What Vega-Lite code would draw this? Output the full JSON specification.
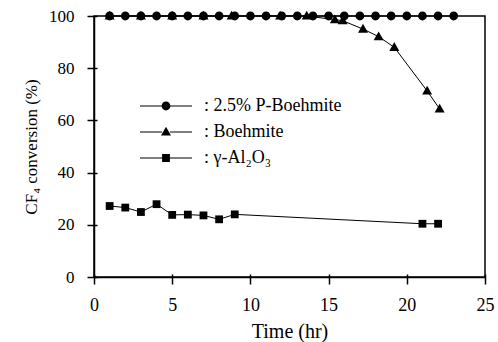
{
  "$schema": "https://vega.github.io/schema/vega-lite/v6.json",
  "width": 391,
  "height": 261,
  "autosize": {"type": "none"},
  "padding": {"left": 94, "top": 16, "right": 13, "bottom": 65},
  "background": "white",
  "config": {
    "font": "Liberation Serif",
    "view": {"stroke": "black", "strokeWidth": 1.5},
    "axis": {
      "grid": false,
      "domainColor": "black",
      "domainWidth": 1.5,
      "tickColor": "black",
      "tickWidth": 1.5,
      "tickSize": 7,
      "labelFont": "Liberation Serif",
      "labelFontSize": 18,
      "labelColor": "black",
      "titleFont": "Liberation Serif",
      "titleFontSize": 20,
      "titleFontWeight": "normal",
      "titleColor": "black"
    }
  },
  "data": {
    "values": [
      {"s": ": Boehmite", "t": 1, "c": 100},
      {"s": ": Boehmite", "t": 3, "c": 100},
      {"s": ": Boehmite", "t": 5, "c": 100},
      {"s": ": Boehmite", "t": 7, "c": 100},
      {"s": ": Boehmite", "t": 8.8, "c": 100},
      {"s": ": Boehmite", "t": 11.9, "c": 100},
      {"s": ": Boehmite", "t": 13.6, "c": 100},
      {"s": ": Boehmite", "t": 15.4, "c": 98.6},
      {"s": ": Boehmite", "t": 15.9, "c": 98.2},
      {"s": ": Boehmite", "t": 17.2, "c": 95},
      {"s": ": Boehmite", "t": 18.2, "c": 92.1},
      {"s": ": Boehmite", "t": 19.2, "c": 88},
      {"s": ": Boehmite", "t": 21.3, "c": 71.3},
      {"s": ": Boehmite", "t": 22.1, "c": 64.4},
      {"s": ": 2.5% P-Boehmite", "t": 1, "c": 100},
      {"s": ": 2.5% P-Boehmite", "t": 2, "c": 100},
      {"s": ": 2.5% P-Boehmite", "t": 3, "c": 100},
      {"s": ": 2.5% P-Boehmite", "t": 4, "c": 100},
      {"s": ": 2.5% P-Boehmite", "t": 5, "c": 100},
      {"s": ": 2.5% P-Boehmite", "t": 6, "c": 100},
      {"s": ": 2.5% P-Boehmite", "t": 7, "c": 100},
      {"s": ": 2.5% P-Boehmite", "t": 8, "c": 100},
      {"s": ": 2.5% P-Boehmite", "t": 9, "c": 100},
      {"s": ": 2.5% P-Boehmite", "t": 10, "c": 100},
      {"s": ": 2.5% P-Boehmite", "t": 11, "c": 100},
      {"s": ": 2.5% P-Boehmite", "t": 12, "c": 100},
      {"s": ": 2.5% P-Boehmite", "t": 13, "c": 100},
      {"s": ": 2.5% P-Boehmite", "t": 14, "c": 100},
      {"s": ": 2.5% P-Boehmite", "t": 15, "c": 100},
      {"s": ": 2.5% P-Boehmite", "t": 16, "c": 100},
      {"s": ": 2.5% P-Boehmite", "t": 17, "c": 100},
      {"s": ": 2.5% P-Boehmite", "t": 18, "c": 100},
      {"s": ": 2.5% P-Boehmite", "t": 19, "c": 100},
      {"s": ": 2.5% P-Boehmite", "t": 20, "c": 100},
      {"s": ": 2.5% P-Boehmite", "t": 21, "c": 100},
      {"s": ": 2.5% P-Boehmite", "t": 22, "c": 100},
      {"s": ": 2.5% P-Boehmite", "t": 23, "c": 100},
      {"s": ": γ-Al₂O₃", "t": 1, "c": 27.2},
      {"s": ": γ-Al₂O₃", "t": 2, "c": 26.6},
      {"s": ": γ-Al₂O₃", "t": 3, "c": 24.9},
      {"s": ": γ-Al₂O₃", "t": 4, "c": 27.9},
      {"s": ": γ-Al₂O₃", "t": 5, "c": 23.8},
      {"s": ": γ-Al₂O₃", "t": 6, "c": 23.9},
      {"s": ": γ-Al₂O₃", "t": 7, "c": 23.6},
      {"s": ": γ-Al₂O₃", "t": 8, "c": 22.1},
      {"s": ": γ-Al₂O₃", "t": 9, "c": 24.0},
      {"s": ": γ-Al₂O₃", "t": 21, "c": 20.4},
      {"s": ": γ-Al₂O₃", "t": 22, "c": 20.4}
    ]
  },
  "layer": [
    {
      "mark": {"type": "line", "color": "black", "strokeWidth": 1},
      "encoding": {
        "x": {
          "field": "t",
          "type": "quantitative",
          "scale": {"domain": [0, 25], "nice": false, "zero": false},
          "axis": {
            "title": "Time (hr)",
            "values": [0, 5, 10, 15, 20, 25],
            "labelPadding": 12,
            "titlePadding": 7,
            "titleFontWeight": "normal",
            "labelFlush": false,
            "labelOverlap": false
          }
        },
        "y": {
          "field": "c",
          "type": "quantitative",
          "scale": {"domain": [0, 100], "nice": false},
          "axis": {
            "title": "CF₄ conversion (%)",
            "values": [0, 20, 40, 60, 80, 100],
            "labelFontSize": 17,
            "titleFontSize": 17,
            "titleFontWeight": "normal",
            "labelPadding": 13,
            "titlePadding": 8,
            "labelFlush": false,
            "labelOverlap": false
          }
        },
        "detail": {"field": "s", "type": "nominal"}
      }
    },
    {
      "mark": {"type": "point", "filled": true, "color": "black", "opacity": 1, "size": 400},
      "encoding": {
        "x": {
          "field": "t",
          "type": "quantitative",
          "scale": {"domain": [0, 25], "nice": false, "zero": false},
          "axis": null
        },
        "y": {
          "field": "c",
          "type": "quantitative",
          "scale": {"domain": [0, 100], "nice": false},
          "axis": null
        },
        "shape": {
          "field": "s",
          "type": "nominal",
          "scale": {
            "domain": [": 2.5% P-Boehmite", ": Boehmite", ": γ-Al₂O₃"],
            "range": [
              "M-0.44,0A0.44,0.44,0,1,1,0.44,0A0.44,0.44,0,1,1,-0.44,0Z",
              "M0,-0.52L0.5,0.36L-0.5,0.36Z",
              "M-0.39,-0.39H0.39V0.39H-0.39Z"
            ]
          },
          "legend": null
        }
      }
    },
    {
      "mark": {"type": "point", "filled": true, "color": "black", "opacity": 0, "size": 400},
      "encoding": {
        "x": {
          "field": "t",
          "type": "quantitative",
          "scale": {"domain": [0, 25], "nice": false, "zero": false},
          "axis": {"orient": "bottom", "values": [0, 5, 10, 15, 20, 25], "tickSize": -3, "labels": false, "domain": false, "title": null}
        },
        "y": {
          "field": "c",
          "type": "quantitative",
          "scale": {"domain": [0, 100], "nice": false},
          "axis": {"orient": "left", "values": [0, 20, 40, 60, 80, 100], "tickSize": -3, "labels": false, "domain": false, "title": null}
        },
        "shape": {
          "field": "s",
          "type": "nominal",
          "scale": {
            "domain": [": 2.5% P-Boehmite", ": Boehmite", ": γ-Al₂O₃"],
            "range": [
              "M-2.6,-0.06H-0.4V0.06H-2.6ZM0.4,-0.06H2.6V0.06H0.4ZM-0.44,0A0.44,0.44,0,1,1,0.44,0A0.44,0.44,0,1,1,-0.44,0Z",
              "M-2.6,-0.06H-0.4V0.06H-2.6ZM0.4,-0.06H2.6V0.06H0.4ZM0,-0.52L0.5,0.36L-0.5,0.36Z",
              "M-2.6,-0.06H-0.35V0.06H-2.6ZM0.35,-0.06H2.6V0.06H0.35ZM-0.39,-0.39H0.39V0.39H-0.39Z"
            ]
          },
          "legend": {
            "orient": "none",
            "legendX": 62,
            "legendY": 80,
            "title": null,
            "padding": 0,
            "symbolSize": 400,
            "labelFont": "Liberation Serif",
            "labelFontSize": 18,
            "labelColor": "black",
            "labelOffset": 28,
            "rowPadding": 7,
            "symbolFillColor": "black",
            "symbolStrokeColor": "black",
            "symbolStrokeWidth": 0,
            "symbolOpacity": 1,
            "encode": {
              "symbols": {
                "fill": {"value": "black"},
                "opacity": {"value": 1}
              }
            }
          }
        }
      }
    }
  ],
  "resolve": {
    "axis": {"x": "independent", "y": "independent"},
    "scale": {"shape": "independent"},
    "legend": {"shape": "independent"}
  }
}
